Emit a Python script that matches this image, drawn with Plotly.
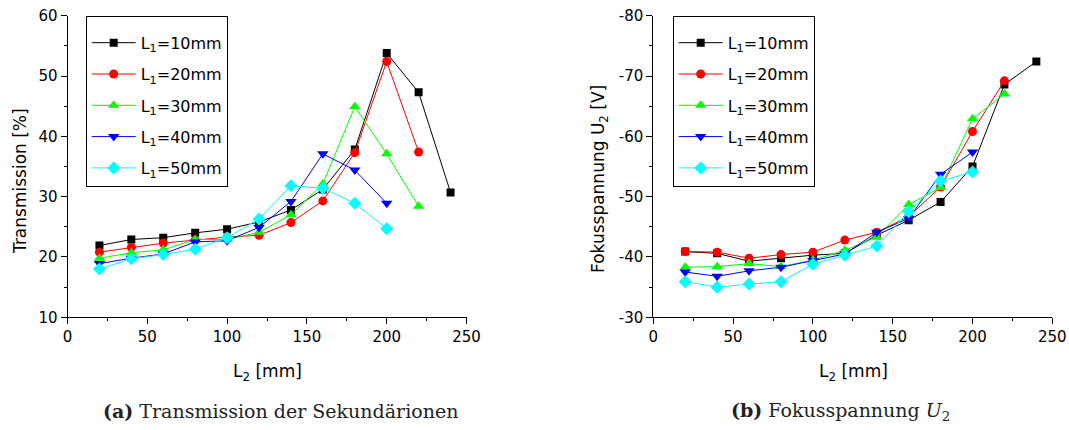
import plotly.graph_objects as go

L2 = [20, 40, 60, 80, 100, 120, 140, 160, 180, 200, 220, 240]
labels = ["L<sub>1</sub>=10mm", "L<sub>1</sub>=20mm", "L<sub>1</sub>=30mm", "L<sub>1</sub>=40mm", "L<sub>1</sub>=50mm"]

trans_10 = [21.9, 22.9, 23.2, 24.0, 24.6, 25.8, 27.8, 31.2, 37.8, 53.8, 47.3, 30.7]
trans_20 = [20.8, 21.6, 22.3, 22.8, 23.3, 23.6, 25.7, 29.3, 37.3, 52.4, 37.4]
trans_30 = [19.8, 20.7, 21.2, 22.9, 22.9, 24.1, 27.0, 32.1, 44.9, 37.1, 28.4]
trans_40 = [18.9, 19.8, 20.5, 22.5, 22.7, 24.9, 29.2, 37.1, 34.4, 28.9]
trans_50 = [18.0, 19.7, 20.4, 21.3, 23.2, 26.3, 31.8, 31.4, 28.9, 24.7]

u2_10 = [-40.9, -40.6, -39.3, -39.8, -40.3, -40.6, -43.6, -46.1, -49.1, -55.0, -68.6, -72.4]
u2_20 = [-40.9, -40.8, -39.8, -40.4, -40.8, -42.8, -44.1, -46.7, -51.6, -60.8, -69.2]
u2_30 = [-38.3, -38.4, -38.9, -38.4, -39.5, -41.1, -43.3, -48.7, -51.5, -62.9, -67.0]
u2_40 = [-37.5, -36.8, -37.7, -38.3, -39.4, -40.5, -44.1, -46.4, -53.7, -57.4]
u2_50 = [-35.9, -35.0, -35.5, -35.9, -38.8, -40.3, -41.8, -47.5, -52.6, -54.1]

x_ticks = [0, 50, 100, 150, 200, 250]
y1_ticks = [10, 20, 30, 40, 50, 60]
y2_ticks = [-80, -70, -60, -50, -40, -30]
y2_ticktext = ["-80", "-70", "-60", "-50", "-40", "-30"]

trans = [trans_10, trans_20, trans_30, trans_40, trans_50]
u2 = [u2_10, u2_20, u2_30, u2_40, u2_50]
colors = ["#000000", "#FF0000", "#00FF00", "#0000FF", "#00FFFF"]
symbols = ["square", "circle", "triangle-up", "triangle-down", "diamond"]
msizes = [8, 9, 10, 10, 10]

W, H = 1069, 430
FONT = "DejaVu Sans"

fig = go.Figure()
for i in range(5):
    fig.add_trace(go.Scatter(
        x=L2[:len(trans[i])], y=trans[i], mode="lines+markers", name=labels[i],
        line=dict(color=colors[i], width=1),
        marker=dict(symbol=symbols[i], size=msizes[i], color=colors[i], line=dict(width=0)),
        xaxis="x", yaxis="y", legend="legend", legendgroup="a%d" % i))
for i in range(5):
    fig.add_trace(go.Scatter(
        x=L2[:len(u2[i])], y=u2[i], mode="lines+markers", name=labels[i],
        line=dict(color=colors[i], width=1),
        marker=dict(symbol=symbols[i], size=msizes[i], color=colors[i], line=dict(width=0)),
        xaxis="x2", yaxis="y2", legend="legend2", legendgroup="b%d" % i))

x1 = [67.5 / W, 466.5 / W]
x2 = [653.3 / W, 1052.3 / W]
yd = [1 - 317.3 / H, 1 - 15.7 / H]

axis_common = dict(
    showline=True, linecolor="black", linewidth=1, mirror=False,
    ticks="outside", ticklen=6, tickwidth=1, tickcolor="black",
    showgrid=False, zeroline=False, automargin=False,
    tickfont=dict(family=FONT, size=15, color="black"),
)
minor_x = dict(ticks="outside", ticklen=3, dtick=25, tickcolor="black")
minor_y = dict(ticks="outside", ticklen=3, dtick=5, tickcolor="black")

legend_common = dict(xanchor="left", yanchor="top",
                     bordercolor="black", borderwidth=1, bgcolor="white",
                     itemwidth=44, tracegroupgap=7.5,
                     title=dict(text=" ", font=dict(size=7)),
                     font=dict(family=FONT, size=16, color="black"))

fig.update_layout(
    width=W, height=H,
    margin=dict(l=0, r=0, t=0, b=0, autoexpand=False),
    paper_bgcolor="white", plot_bgcolor="white",
    font=dict(family=FONT, color="black"),
    xaxis=dict(domain=x1, range=[0, 250], tickvals=x_ticks, anchor="y", minor=minor_x, **axis_common),
    yaxis=dict(domain=yd, range=[10, 60], tickvals=y1_ticks, anchor="x", minor=minor_y, **axis_common),
    xaxis2=dict(domain=x2, range=[0, 250], tickvals=x_ticks, anchor="y2", minor=minor_x, **axis_common),
    yaxis2=dict(domain=yd, range=[-30, -80], tickvals=y2_ticks, ticktext=y2_ticktext,
                anchor="x2", minor=minor_y, **axis_common),
    legend=dict(x=85.7 / W, y=1 - 15.7 / H, **legend_common),
    legend2=dict(x=672.7 / W, y=1 - 15.7 / H, **legend_common),
    showlegend=True,
)

ann = []
ann.append(dict(text="L<sub>2</sub> [mm]", x=267 / W, y=1 - 372 / H, xref="paper", yref="paper",
                showarrow=False, font=dict(family=FONT, size=17), xanchor="center", yanchor="middle"))
ann.append(dict(text="L<sub>2</sub> [mm]", x=853 / W, y=1 - 372 / H, xref="paper", yref="paper",
                showarrow=False, font=dict(family=FONT, size=17), xanchor="center", yanchor="middle"))
ann.append(dict(text="Transmission [%]", x=20 / W, y=1 - 181 / H, xref="paper", yref="paper",
                showarrow=False, textangle=-90, font=dict(family=FONT, size=17), xanchor="center", yanchor="middle"))
ann.append(dict(text="Fokusspannung U<sub>2</sub> [V]", x=599 / W, y=1 - 179 / H, xref="paper", yref="paper",
                showarrow=False, textangle=-90, font=dict(family=FONT, size=17), xanchor="center", yanchor="middle"))
ann.append(dict(text="<b>(a)</b> Transmission der Sekundärionen", x=280 / W, y=1 - 411 / H,
                xref="paper", yref="paper", showarrow=False,
                font=dict(family="DejaVu Serif", size=19, color="#222222"), xanchor="center", yanchor="middle"))
ann.append(dict(text="<b>(b)</b> Fokusspannung <i>U</i><sub>2</sub>", x=840 / W, y=1 - 411 / H,
                xref="paper", yref="paper", showarrow=False,
                font=dict(family="DejaVu Serif", size=19, color="#222222"), xanchor="center", yanchor="middle"))
fig.update_layout(annotations=ann)

fig.write_html("out.html")
